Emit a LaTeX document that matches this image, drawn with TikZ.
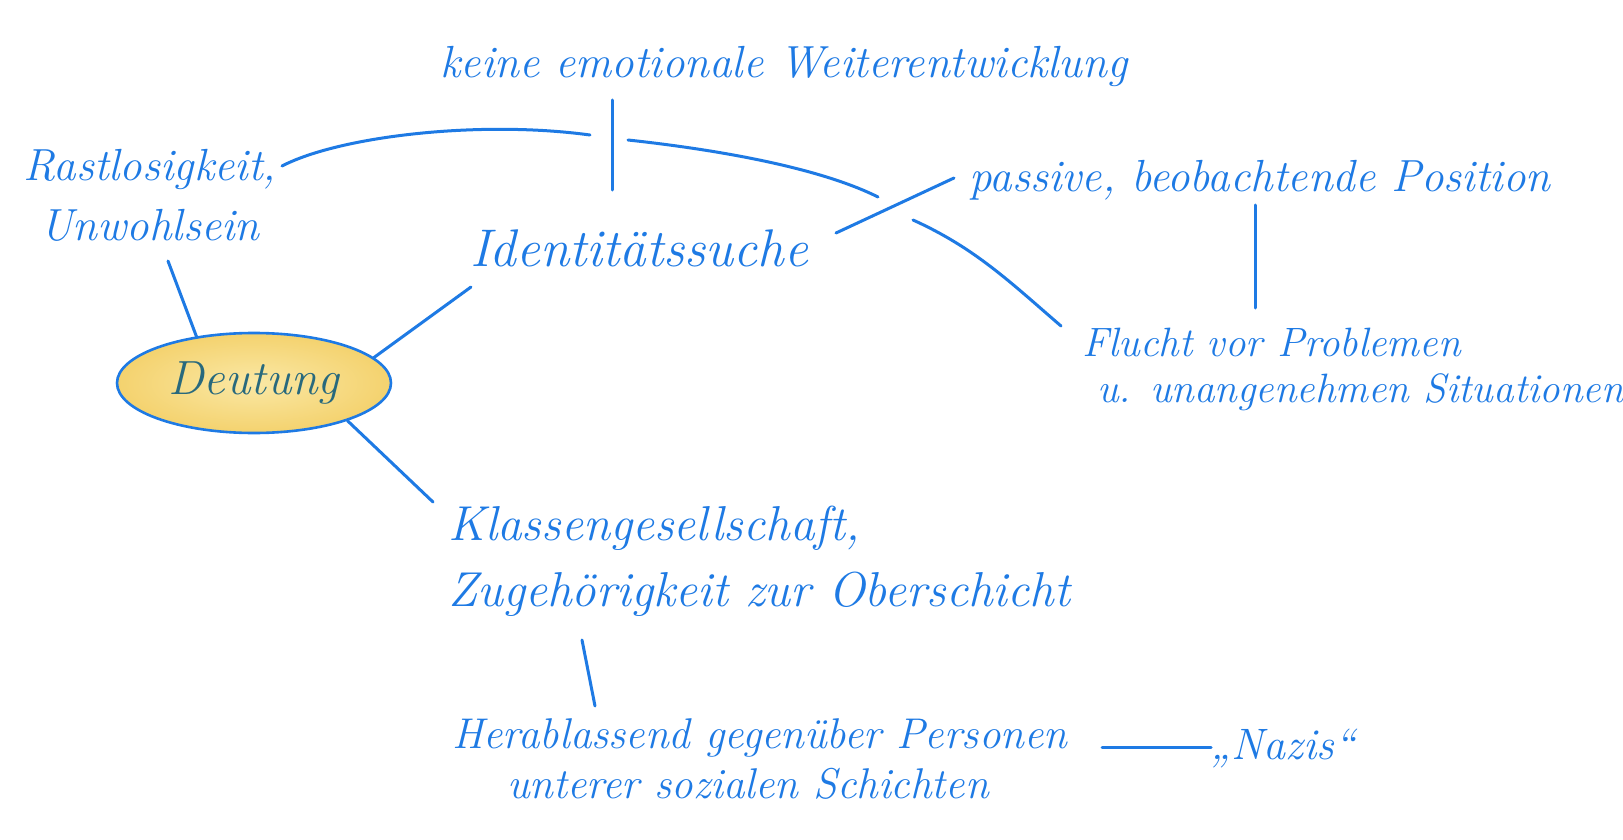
\documentclass[tikz,border=0pt]{standalone}
\usetikzlibrary{shapes.geometric}
\definecolor{ink}{RGB}{30,122,228}
\definecolor{teal}{RGB}{40,105,125}
\definecolor{yelo}{RGB}{244,210,110}
\definecolor{yeli}{RGB}{250,232,165}
\tikzset{
  hw/.style={text=ink, inner sep=0pt, font=\itshape\fontsize{44}{58}\selectfont},
  link/.style={draw=ink, line width=3pt, line cap=round},
  center/.style={ellipse, draw=ink, line width=2.6pt, inner color=yeli, outer color=yelo,
    minimum width=274pt, minimum height=100pt, text=teal, font=\itshape\fontsize{48}{58}\selectfont}
}
\begin{document}
\begin{tikzpicture}[x=1pt,y=-1pt]
\useasboundingbox (0,0) rectangle (1623,840);
\fill[white] (0,0) rectangle (1623,840);
% nodes
\node[center] (deut) at (254,383) {Deutung};
\node[hw, font=\itshape\fontsize{45}{58}\selectfont] (keine) at (784,66) {keine emotionale Weiterentwicklung};
\node[hw, align=center, font=\itshape\fontsize{45}{60}\selectfont] (rast) at (150,195) {Rastlosigkeit,\\Unwohlsein};
\node[hw, font=\itshape\fontsize{53}{58}\selectfont] (ident) at (639,248) {Identitätssuche};
\node[hw, font=\itshape\fontsize{45}{58}\selectfont] (pass) at (1260,180) {passive, beobachtende Position};
\node[hw, align=left, font=\itshape\fontsize{41}{46}\selectfont, anchor=north west] (flucht) at (1082,328) {Flucht vor Problemen\\\hspace*{15pt}u. unangenehmen Situationen};
\node[hw, align=left, font=\itshape\fontsize{49}{66}\selectfont, anchor=north west] (klass) at (448,506) {Klassengesellschaft,\\Zugehörigkeit zur Oberschicht};
\node[hw, align=left, font=\itshape\fontsize{43}{50}\selectfont, anchor=north west] (herab) at (452,718) {Herablassend gegenüber Personen\\\hspace*{55pt}unterer sozialen Schichten};
\node[hw] (nazis) at (1283,748) {„Nazis“};
% connector end points
\coordinate (rastS) at (168,261);
\coordinate (identSW) at (471,287);
\coordinate (klassNW) at (433,502);
\coordinate (keineS1) at (612,100);
\coordinate (keineS2) at (612,190);
\coordinate (rastE) at (282,166);
\coordinate (arcA) at (590,135);
\coordinate (arcB) at (628,140);
\coordinate (arcC) at (878,197);
\coordinate (identE) at (836,233);
\coordinate (passW) at (954,178);
\coordinate (identE2) at (913,220);
\coordinate (fluchtNW) at (1061,326);
\coordinate (passS1) at (1255,205);
\coordinate (passS2) at (1255,308);
\coordinate (klassS) at (582,640);
\coordinate (herabN) at (595,706);
\coordinate (herabE) at (1102,747);
\coordinate (nazisW) at (1211,747);
% connectors
\draw[link] (rastS) -- (deut.141);
\draw[link] (deut.12) -- (identSW);
\draw[link] (deut.-22) -- (klassNW);
\draw[link] (keineS1) -- (keineS2);
\draw[link] (rastE) .. controls (340,136) and (480,120) .. (arcA);
\draw[link] (arcB) .. controls (720,150) and (820,168) .. (arcC);
\draw[link] (identE) -- (passW);
\draw[link] (identE2) .. controls (975,248) and (1010,282) .. (fluchtNW);
\draw[link] (passS1) -- (passS2);
\draw[link] (klassS) -- (herabN);
\draw[link] (herabE) -- (nazisW);
\end{tikzpicture}
\end{document}
